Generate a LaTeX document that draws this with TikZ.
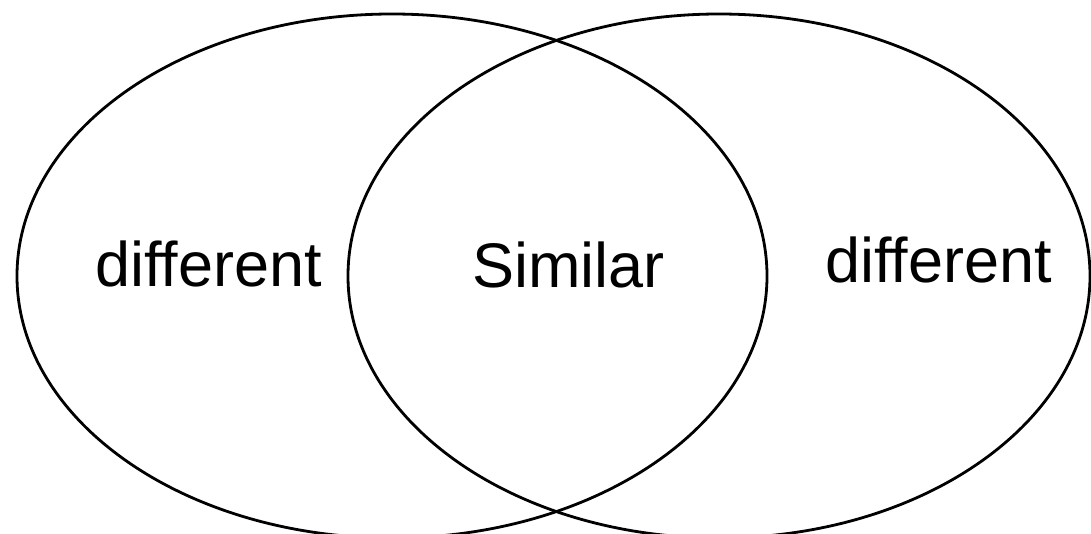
\documentclass[tikz,border=0pt]{standalone}
\usepackage{fontspec}
\setmainfont[Ligatures={NoCommon}]{Liberation Sans}
\begin{document}
\begin{tikzpicture}[x=1pt,y=1pt,
  venn/.style={draw=black,line width=2.8pt},
  lbl/.style={anchor=base west,inner sep=0pt,font=\fontsize{63}{70}\selectfont}]
\useasboundingbox (0,0) rectangle (1091,533);
\clip (0,0) rectangle (1091,533);
\fill[white] (0,0) rectangle (1091,533);
\draw[venn] (392,257) ellipse [x radius=375, y radius=262];
\draw[venn] (719,257) ellipse [x radius=371, y radius=262];
\node[lbl] (dl) at (95,246) {different};
\node[lbl] (sim) at (472,245) {Similar};
\node[lbl] (dr) at (825,250) {different};
\end{tikzpicture}
\end{document}
